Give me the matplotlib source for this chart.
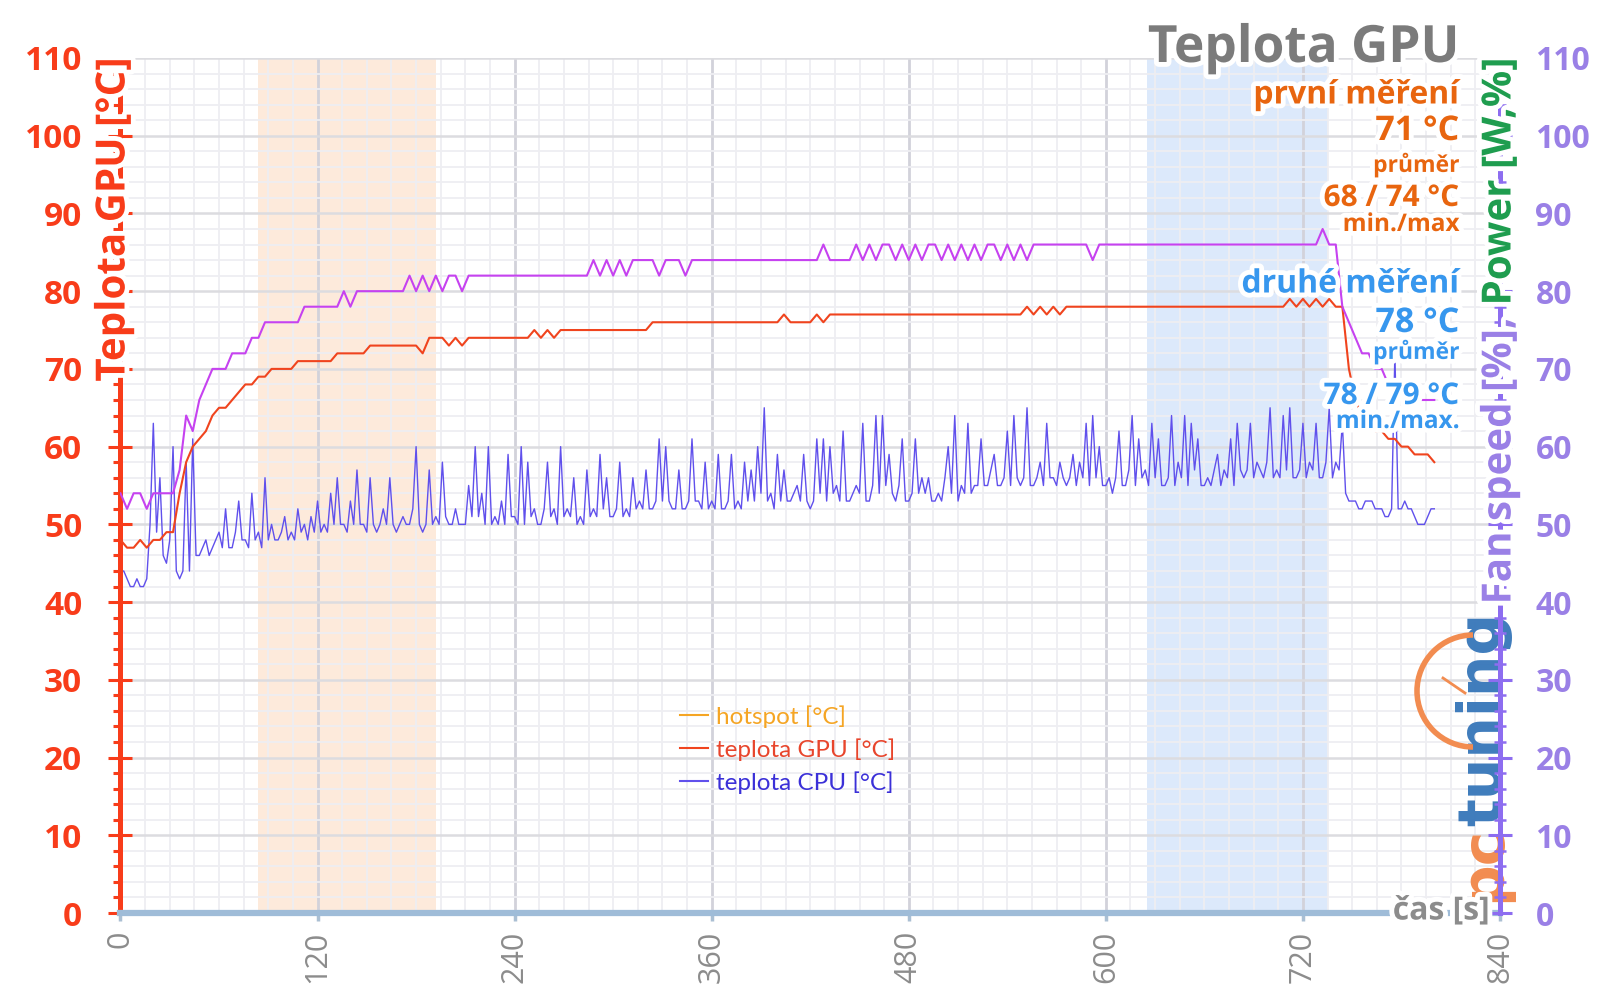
import numpy as np
import matplotlib
matplotlib.use("Agg")
from matplotlib import pyplot
from matplotlib import patheffects
from matplotlib.lines import Line2D
from matplotlib.patches import Arc
from matplotlib.ticker import MultipleLocator

pyplot.rcParams["font.family"] = ["Open Sans", "DejaVu Sans"]

# GPU temperature and fan speed sampled every 4 s
STEP_S = 4
gpu_temp = [
    48, 47, 47, 48, 47, 48, 48, 49, 49, 54,
    58, 60, 61, 62, 64, 65, 65, 66, 67, 68,
    68, 69, 69, 70, 70, 70, 70, 71, 71, 71,
    71, 71, 71, 72, 72, 72, 72, 72, 73, 73,
    73, 73, 73, 73, 73, 73, 72, 74, 74, 74,
    73, 74, 73, 74, 74, 74, 74, 74, 74, 74,
    74, 74, 74, 75, 74, 75, 74, 75, 75, 75,
    75, 75, 75, 75, 75, 75, 75, 75, 75, 75,
    75, 76, 76, 76, 76, 76, 76, 76, 76, 76,
    76, 76, 76, 76, 76, 76, 76, 76, 76, 76,
    76, 77, 76, 76, 76, 76, 77, 76, 77, 77,
    77, 77, 77, 77, 77, 77, 77, 77, 77, 77,
    77, 77, 77, 77, 77, 77, 77, 77, 77, 77,
    77, 77, 77, 77, 77, 77, 77, 77, 78, 77,
    78, 77, 78, 77, 78, 78, 78, 78, 78, 78,
    78, 78, 78, 78, 78, 78, 78, 78, 78, 78,
    78, 78, 78, 78, 78, 78, 78, 78, 78, 78,
    78, 78, 78, 78, 78, 78, 78, 78, 79, 78,
    79, 78, 79, 78, 79, 78, 78, 70, 66, 64,
    63, 62, 62, 61, 61, 60, 60, 59, 59, 59,
    58,
]
fan_speed = [
    54, 52, 54, 54, 52, 54, 54, 54, 54, 57,
    64, 62, 66, 68, 70, 70, 70, 72, 72, 72,
    74, 74, 76, 76, 76, 76, 76, 76, 78, 78,
    78, 78, 78, 78, 80, 78, 80, 80, 80, 80,
    80, 80, 80, 80, 82, 80, 82, 80, 82, 80,
    82, 82, 80, 82, 82, 82, 82, 82, 82, 82,
    82, 82, 82, 82, 82, 82, 82, 82, 82, 82,
    82, 82, 84, 82, 84, 82, 84, 82, 84, 84,
    84, 84, 82, 84, 84, 84, 82, 84, 84, 84,
    84, 84, 84, 84, 84, 84, 84, 84, 84, 84,
    84, 84, 84, 84, 84, 84, 84, 86, 84, 84,
    84, 84, 86, 84, 86, 84, 86, 86, 84, 86,
    84, 86, 84, 86, 86, 84, 86, 84, 86, 84,
    86, 84, 86, 86, 84, 86, 84, 86, 84, 86,
    86, 86, 86, 86, 86, 86, 86, 86, 84, 86,
    86, 86, 86, 86, 86, 86, 86, 86, 86, 86,
    86, 86, 86, 86, 86, 86, 86, 86, 86, 86,
    86, 86, 86, 86, 86, 86, 86, 86, 86, 86,
    86, 86, 86, 88, 86, 86, 78, 76, 74, 72,
    72, 70, 70, 68, 68, 68, 66, 66, 66, 66,
    66,
]
# CPU temperature sampled every 2 s
CPU_STEP_S = 2
cpu_temp = [
    44, 44, 43, 42, 42, 43, 42, 42, 43, 50, 63, 49, 56, 46, 45, 48, 60, 44, 43, 44,
    58, 44, 61, 46, 46, 47, 48, 46, 47, 48, 49, 47, 52, 47, 47, 49, 53, 48, 48, 47,
    54, 48, 49, 47, 56, 48, 50, 48, 48, 49, 51, 48, 49, 48, 52, 49, 50, 48, 51, 49,
    53, 49, 50, 49, 54, 50, 56, 50, 50, 49, 53, 50, 57, 50, 50, 49, 56, 50, 49, 50,
    52, 50, 56, 50, 49, 50, 51, 50, 50, 52, 60, 50, 49, 50, 57, 50, 51, 50, 58, 51,
    50, 50, 52, 50, 50, 50, 55, 51, 60, 51, 54, 50, 60, 50, 51, 50, 53, 50, 59, 51,
    51, 50, 60, 50, 58, 51, 52, 50, 50, 52, 58, 51, 52, 50, 60, 51, 52, 51, 56, 50,
    51, 50, 57, 51, 52, 51, 59, 52, 56, 51, 51, 52, 58, 51, 52, 51, 56, 52, 53, 52,
    57, 52, 52, 53, 61, 53, 60, 53, 52, 52, 57, 52, 52, 53, 61, 53, 53, 52, 58, 52,
    53, 52, 59, 52, 52, 53, 59, 52, 53, 52, 58, 53, 57, 53, 60, 54, 65, 53, 54, 52,
    59, 53, 57, 53, 53, 54, 55, 53, 59, 53, 52, 53, 61, 54, 61, 53, 60, 54, 55, 53,
    62, 53, 53, 54, 55, 54, 63, 53, 53, 55, 64, 54, 64, 55, 59, 54, 53, 55, 61, 53,
    53, 54, 61, 54, 56, 54, 56, 53, 53, 54, 53, 56, 60, 54, 64, 53, 55, 54, 63, 54,
    55, 55, 61, 55, 55, 57, 59, 55, 55, 56, 62, 55, 64, 56, 55, 56, 65, 55, 55, 56,
    58, 55, 63, 56, 56, 55, 58, 56, 55, 56, 59, 55, 58, 56, 63, 55, 64, 56, 60, 55,
    55, 56, 54, 56, 62, 55, 55, 57, 64, 55, 61, 56, 57, 55, 63, 56, 61, 55, 55, 56,
    64, 55, 58, 56, 64, 55, 63, 57, 61, 55, 55, 56, 55, 57, 59, 55, 57, 56, 61, 55,
    63, 57, 56, 57, 63, 56, 58, 57, 56, 58, 65, 56, 57, 56, 64, 57, 65, 56, 56, 57,
    63, 56, 58, 57, 63, 56, 56, 58, 65, 56, 58, 57, 63, 54, 53, 53, 53, 52, 52, 53,
    53, 53, 52, 52, 52, 51, 51, 52, 72, 52, 52, 53, 52, 52, 51, 50, 50, 50, 51, 52,
    52,
]
time_s = np.arange(len(gpu_temp)) * STEP_S
cpu_time_s = np.arange(len(cpu_temp)) * CPU_STEP_S

first_run = (84, 192)
second_run = (625, 735)

x_ticks = [0, 120, 240, 360, 480, 600, 720, 840]
y_ticks = [0, 10, 20, 30, 40, 50, 60, 70, 80, 90, 100, 110]

legend_labels = ["hotspot [°C]", "teplota GPU [°C]", "teplota CPU [°C]"]

notes = ["první měření", "71 °C", "průměr", "68 / 74 °C", "min./max",
         "druhé měření", "78 °C", "průměr", "78 / 79 °C", "min./max."]

RED = "#f83c1a"
GPU_LINE = "#f0441e"
FAN_LINE = "#c642f0"
CPU_LINE = "#6050ec"
HOTSPOT = "#f5a524"
PURPLE = "#9a80e6"
PURPLE_SPINE = "#8d6df0"
GREEN = "#1f9d4f"
ORANGE_TXT = "#e8650f"
BLUE_TXT = "#3797ee"
GRAY = "#8c8c8c"
AXIS_BLUE = "#9fbcd8"

glow = [patheffects.withStroke(linewidth=7, foreground="white")]

fig = pyplot.figure(figsize=(16, 10.08), dpi=100)
ax = fig.add_axes([0.0753, 0.0942, 0.8622, 0.8483])
ax.set_xlim(0, 840)
ax.set_ylim(0, 110)

ax.axvspan(*first_run, color="#fdeadb", zorder=0.1, lw=0)
ax.axvspan(*second_run, color="#dce9fb", zorder=0.1, lw=0)

ax.xaxis.set_minor_locator(MultipleLocator(15))
ax.yaxis.set_minor_locator(MultipleLocator(2))
ax.set_axisbelow(True)
ax.grid(which="minor", color="#eeeef2", lw=1.3)
ax.grid(which="major", axis="y", color="#dcdce0", lw=1.8)
ax.grid(which="major", axis="x", color="#d2d2da", lw=2.0)

ax.plot(time_s, gpu_temp, color=GPU_LINE, lw=1.5, zorder=3)
ax.plot(cpu_time_s, cpu_temp, color=CPU_LINE, lw=1.0, zorder=2)

for side in ("top", "right"):
    ax.spines[side].set_visible(False)
ax.spines["left"].set_color(RED)
ax.spines["left"].set_linewidth(3.6)
ax.spines["bottom"].set_color(AXIS_BLUE)
ax.spines["bottom"].set_linewidth(4.5)

ax.set_yticks(y_ticks, [str(v) for v in y_ticks], fontweight="bold", fontsize=24)
ax.tick_params(axis="y", which="major", direction="inout", length=17, width=2.2,
               color=RED, labelcolor=RED, pad=19)
ax.tick_params(axis="y", which="minor", direction="out", length=5, width=2.2, color=RED)
ax.set_xticks(x_ticks, [str(v) for v in x_ticks], rotation=90, fontsize=22)
ax.tick_params(axis="x", which="major", direction="out", length=6, width=2.5,
               color="#aabfd3", labelcolor=GRAY, pad=7)
ax.tick_params(axis="x", which="minor", length=0)

handles = [Line2D([], [], color=HOTSPOT, lw=1.5),
           Line2D([], [], color=GPU_LINE, lw=1.5),
           Line2D([], [], color=CPU_LINE, lw=1.5)]
ax.legend(handles, legend_labels, loc="upper left", bbox_to_anchor=(0.39, 0.269),
          frameon=False, handlelength=1.15, handletextpad=0.3, labelspacing=0.43,
          labelcolor=[HOTSPOT, "#e8452c", "#3b30d8"],
          prop={"family": "Lato", "size": 17.5})

ax2 = ax.twinx()
ax2.set_ylim(0, 110)
ax2.plot(time_s, fan_speed, color=FAN_LINE, lw=1.5, zorder=2)
for side in ("top", "left", "bottom"):
    ax2.spines[side].set_visible(False)
ax2.spines["right"].set_color(PURPLE_SPINE)
ax2.spines["right"].set_linewidth(3.6)
ax2.yaxis.set_minor_locator(MultipleLocator(2))
ax2.set_yticks(y_ticks, [str(v) for v in y_ticks], fontweight="bold", fontsize=23)
ax2.tick_params(axis="y", which="major", direction="inout", length=17, width=2.2,
                color=PURPLE_SPINE, labelcolor=PURPLE, pad=17)
ax2.tick_params(axis="y", which="minor", direction="inout", length=8, width=1.8,
                color=PURPLE_SPINE)

# title and measurement notes, right aligned
fig.text(0.912, 1 - 49 / 1008, "Teplota GPU", ha="right", va="center", fontsize=37,
         fontweight="bold", color="#7b7b7b", path_effects=glow)
note_y = [95, 131, 165, 198, 225, 284, 323, 352, 396, 422]
note_size = [23, 24.5, 16.5, 21.5, 17.5, 23, 24.5, 16.5, 21.5, 17.5]
note_color = [ORANGE_TXT] * 5 + [BLUE_TXT] * 5
for s, y, fs, c in zip(notes, note_y, note_size, note_color):
    fig.text(0.912, 1 - y / 1008, s, ha="right", va="center", fontsize=fs,
             fontweight="bold", color=c, path_effects=glow)

# axis titles
fig.text(114 / 1600, 1 - 58 / 1008, "Teplota GPU [°C]", rotation=90, ha="center",
         va="top", fontsize=29, fontweight="bold", color=RED, path_effects=glow)
power = fig.text(1500 / 1600, 1 - 58 / 1008, "Power [W,%]", rotation=90, ha="center",
                 va="top", fontsize=29, fontweight="bold", color=GREEN, path_effects=glow)
fig.canvas.draw()
bb = power.get_window_extent()
fig.text(1500 / 1600, (bb.y0 - 2) / fig.bbox.height, "Fan speed [%], ", rotation=90,
         ha="center", va="top", fontsize=29, fontweight="bold", color=PURPLE,
         path_effects=glow)

fig.text(1490 / 1600, 1 - 911 / 1008, "čas [s]", ha="right", va="center", fontsize=23,
         fontweight="bold", color=GRAY, path_effects=glow)

# pcTuning logo
pc = ax2.text(1484 / 1600, 1 - 902 / 1008, "pc", rotation=90, ha="center", va="bottom",
              fontsize=42, fontweight="bold", color="#f28c50", family="DejaVu Sans",
              transform=fig.transFigure, zorder=1.5, clip_on=False)
fig.canvas.draw()
bb = pc.get_window_extent()
ax2.text(1484 / 1600, bb.y1 / fig.bbox.height, "tuning", rotation=90, ha="center",
         va="bottom", fontsize=42, fontweight="bold", color="#3f7cbc", family="DejaVu Sans",
         transform=fig.transFigure, zorder=1.5, clip_on=False)
ax2.add_patch(Arc((14.73, 3.17), 1.12, 1.12, theta1=90, theta2=270, color="#f28c50",
                  lw=4, transform=fig.dpi_scale_trans, clip_on=False, zorder=1.5))
ax2.plot([14.43, 14.65], [3.30, 3.15], color="#f28c50", lw=2,
         transform=fig.dpi_scale_trans, clip_on=False, zorder=1.5)

fig.savefig("out.png", dpi=100)
